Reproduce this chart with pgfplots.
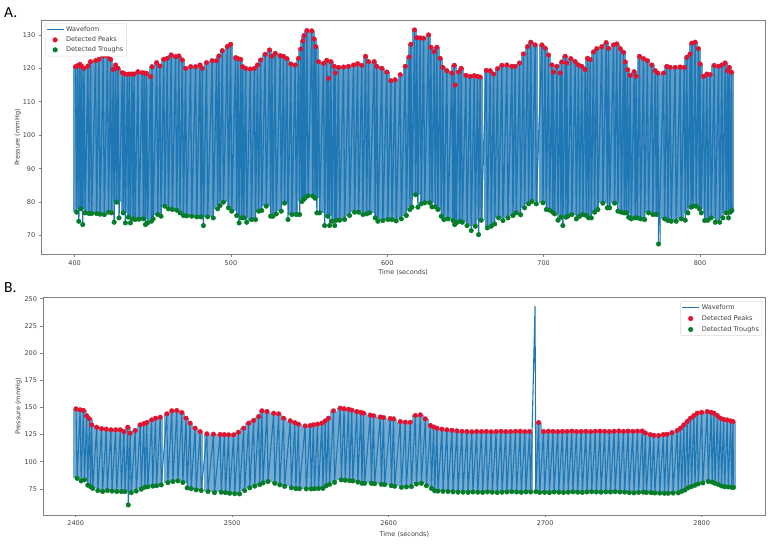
\documentclass[border=0pt]{standalone}
\usepackage{fontspec}
\setmainfont{DejaVu Sans}
\newfontfamily\panelfont{Carlito}
\usepackage{pgfplots}
\usepackage{pgfplotstable}
\pgfplotsset{compat=1.18}

\definecolor{wave}{HTML}{1F77B4}
\definecolor{peakc}{RGB}{224,20,48}
\definecolor{troughc}{RGB}{6,125,42}
\definecolor{spine}{gray}{0.5}
\definecolor{lbl}{gray}{0.25}

% rows alternate: peak, trough, peak, trough ...
\pgfplotsset{
  peakrows/.style={x filter/.code={\ifodd\coordindex\def\pgfmathresult{}\fi}},
  troughrows/.style={x filter/.code={\ifodd\coordindex\else\def\pgfmathresult{}\fi}},
  panel/.style={
    scale only axis,
    anchor=south west,
    axis on top,
    axis line style={spine,line width=0.9pt},
    tick style={spine,line width=0.6pt},
    tick align=outside,
    tick pos=left,
    major tick length=2.5pt,
    font=\fontsize{6.5}{8}\selectfont,
    tick label style={lbl,font=\fontsize{6.5}{8}\selectfont},
    label style={lbl,font=\fontsize{6.5}{8}\selectfont},
    /pgf/number format/assume math mode=true,
    /pgf/number format/1000 sep={},
    xlabel={Time (seconds)},
    ylabel={Pressure (mmHg)},
    legend cell align=left,
  },
}

\pgfplotstableread[row sep=\\]{
t v\\
400.6 120.5\\401.3 77\\
402.0 120.8\\402.7 74.3\\
403.4 121.2\\404.0 78\\
404.6 120.6\\405.2 73.3\\
406.0 120\\406.7 76.8\\
408.5 120.7\\409.2 76.6\\
410.2 122\\410.9 76.6\\
413.4 122.3\\414.1 76.6\\
415.6 122.7\\416.3 76.4\\
418.3 123.7\\419.0 76.3\\
421.0 123.7\\421.7 77\\
423.0 122.7\\423.7 76.8\\
424.7 119.7\\425.3 74\\
426.2 121\\426.9 80\\
427.7 120\\428.4 75.3\\
430.5 118.7\\431.1 76.8\\
431.8 118.4\\432.5 73.8\\
433.7 118.2\\434.4 75.5\\
435.0 118.3\\435.7 73.8\\
436.7 118.3\\437.4 75\\
438.0 118.3\\438.7 74.8\\
440.5 119\\441.2 74.9\\
443.3 118.7\\444.0 75\\
444.6 118.6\\445.3 73.3\\
446.0 118.5\\446.7 73.8\\
448.6 117.5\\449.1 74.3\\
449.5 120.5\\450.2 75\\
452.5 121.7\\453.2 76.3\\
454.6 120.7\\455.3 75.8\\
457.0 122.7\\457.7 78.8\\
459.3 123\\460.0 78\\
461.8 124\\462.5 77.8\\
464.6 123.5\\465.3 77.6\\
466.7 123.7\\467.4 76.8\\
468.9 122.5\\469.6 76\\
471.0 120\\471.7 75.9\\
474.2 120.5\\474.9 75.8\\
477.4 120.5\\478.1 75.6\\
480.2 121\\480.9 75.6\\
481.7 120\\482.4 73\\
484.4 121.7\\485.1 75.6\\
488.0 122.3\\488.7 75.3\\
490.8 122.3\\491.5 78\\
492.3 123.7\\493.0 79\\
494.5 125.3\\495.2 80\\
497.7 126.5\\498.4 78.3\\
499.8 127.2\\500.5 77.3\\
503.0 123.2\\503.7 76\\
504.5 122.9\\505.2 73.8\\
506.2 122.7\\506.9 75.3\\
507.5 120.5\\508.2 75.3\\
509.4 120\\510.1 74\\
512.4 119.8\\513.1 74.8\\
515.0 120\\515.7 74.8\\
517.0 121\\517.7 77.3\\
519.0 122.5\\519.7 77.5\\
521.9 124.2\\522.6 78.8\\
524.7 125.5\\525.4 75.8\\
526.2 123.6\\526.9 75.8\\
528.3 124.5\\529.0 76.5\\
531.5 123.8\\532.2 77.3\\
533.6 123.6\\534.3 79.7\\
535.8 122.9\\536.5 74.8\\
538.3 121.3\\539.0 76.3\\
541.1 121\\541.8 76.3\\
543.2 123\\543.9 76.3\\
544.7 125.8\\545.4 80.2\\
546.0 128.2\\546.5 80.8\\
546.8 129.8\\547.5 81.3\\
548.6 131.3\\549.3 81.9\\
551.7 131.2\\552.4 81.8\\
553.2 128.8\\553.8 81.2\\
554.3 126.5\\555.0 76.8\\
556.0 122\\556.7 76.8\\
559.2 121.5\\559.9 73\\
561.3 122.4\\561.9 75.8\\
562.4 117\\563.1 73\\
563.9 122\\564.6 74.3\\
566.0 120.6\\566.4 73\\
566.7 118.6\\567.4 74.6\\
568.8 120.3\\569.5 74.6\\
572.0 120.4\\572.7 74.8\\
575.2 120.6\\575.9 76\\
578.4 121\\579.1 77\\
581.0 121.4\\581.7 77\\
583.7 120.9\\584.4 76.3\\
586.1 123.6\\586.8 76.5\\
588.0 122\\588.7 76.8\\
591.6 122\\592.3 75.3\\
593.3 120.6\\594.0 74.3\\
596.5 120\\597.2 74.5\\
599.7 118.9\\600.4 74.8\\
602.3 116.3\\603.0 74.8\\
605.0 116.6\\605.7 74.4\\
608.3 118.1\\609.0 75\\
611.5 120.6\\612.2 76\\
614.0 123.4\\614.5 77.8\\
615.1 127.2\\615.8 78.5\\
617.4 131.5\\618.1 82.2\\
618.9 129.2\\619.6 78.5\\
621.0 129.1\\621.7 79.5\\
623.2 129\\623.9 79.8\\
626.4 130\\627.1 79.8\\
627.9 126.3\\628.6 78.6\\
630.0 125\\630.7 78.6\\
631.7 126.3\\632.4 77.8\\
633.8 123\\634.5 75.8\\
635.5 120.3\\636.2 74.8\\
638.1 119.3\\638.8 75\\
641.3 118.6\\642.0 74.5\\
642.8 120.9\\643.1 73.3\\
643.4 115\\644.1 73.8\\
645.6 118.9\\646.3 74.3\\
647.3 120\\648.0 74\\
650.3 117.9\\651.0 73\\
653.0 117.6\\653.7 71.5\\
655.6 117.8\\656.3 72.8\\
657.7 117.6\\658.4 70.3\\
659.4 117.4\\660.1 74.6\\
663.3 119.4\\664.0 72.3\\
665.8 119.3\\666.5 72.8\\
668.0 118.3\\668.7 73.5\\
670.5 119.9\\671.2 75.3\\
673.3 120.9\\674.0 74.5\\
676.5 121\\677.2 75.3\\
679.7 120.6\\680.4 76\\
681.8 120.6\\682.5 76.8\\
684.6 121.6\\685.3 76.2\\
687.1 124.3\\687.8 78.3\\
689.7 126.5\\690.4 79.5\\
691.8 127.8\\692.5 80.2\\
694.6 127\\695.3 79.5\\
698.9 127\\699.6 79.8\\
701.0 126\\701.7 77.8\\
703.1 124\\703.8 77.6\\
705.3 121\\705.8 77\\
706.3 118.9\\707.0 76.5\\
708.5 120.6\\709.2 74.6\\
710.6 118.6\\711.1 75.5\\
711.6 121.9\\712.3 73\\
713.8 123.6\\714.3 75.5\\
714.8 121.6\\715.5 75.8\\
717.4 122.9\\718.1 76.3\\
720.2 122\\720.9 75\\
722.3 121\\723.0 75.8\\
724.4 120.6\\725.1 76.3\\
726.6 119.6\\727.3 76\\
728.1 123\\728.8 75.3\\
729.8 122.6\\730.5 75.3\\
731.9 124.9\\732.6 77\\
734.0 125.9\\734.7 77.8\\
737.2 126.5\\737.9 79.7\\
740.0 127.7\\740.7 78.3\\
741.5 126\\742.2 78.3\\
744.7 127\\745.4 79.7\\
746.8 127.3\\747.5 77.3\\
749.0 125.9\\749.7 77\\
751.1 124.8\\751.6 76.8\\
752.2 121.9\\752.9 76.8\\
753.7 119.6\\754.4 75.5\\
755.4 117.9\\756.1 75\\
757.9 119\\758.6 75.3\\
759.2 117.6\\759.9 75.3\\
761.3 123.6\\762.0 75\\
763.9 122.9\\764.6 74.8\\
766.4 122.3\\767.1 76.8\\
769.2 121\\769.9 76.3\\
771.4 119.3\\772.1 76.3\\
773.0 118.6\\773.5 67.5\\
776.7 118.6\\777.4 75\\
778.8 120.6\\779.5 74.5\\
780.9 120.3\\781.6 74.3\\
784.1 120.3\\784.8 74.3\\
787.3 120.4\\788.0 75\\
789.9 120.3\\790.6 74.6\\
791.6 123.3\\792.3 76.8\\
793.7 124.3\\794.3 78.5\\
794.8 127.5\\795.5 78.8\\
796.9 127.8\\797.6 78.8\\
799.0 125.9\\799.6 78\\
800.1 121.3\\800.8 76.8\\
802.3 117.6\\803.0 74.5\\
804.4 118.3\\805.1 74.6\\
806.5 118.1\\807.2 75.3\\
809.1 120.9\\809.8 74\\
811.9 120.6\\812.6 74\\
814.0 121\\814.7 75.3\\
816.1 121.6\\816.8 76.8\\
817.6 119.3\\818.2 75.3\\
818.7 120.3\\819.4 77\\
820.2 118.8\\820.4 77.5\\
}\waveA

\pgfplotstableread[row sep=\\]{
t v\\
2400.2 148.7\\2400.9 84.8\\
2402.8 147.8\\2403.5 82.4\\
2404.9 147.2\\2405.6 83.3\\
2407.0 142.3\\2407.7 78.5\\
2408.8 139.5\\2409.5 77\\
2410.2 134\\2410.9 75.5\\
2413.4 131.8\\2414.1 73.5\\
2416.5 130.5\\2417.2 72.6\\
2419.5 130\\2420.2 73.5\\
2422.5 129.4\\2423.2 73\\
2425.5 129.4\\2426.2 72.6\\
2428.5 129.4\\2429.2 72.6\\
2430.8 127.8\\2431.5 72.5\\
2433.3 131.8\\2433.6 60.3\\
2434.8 126.3\\2435.5 71.6\\
2438.0 128.8\\2438.7 73\\
2441.2 134\\2441.9 74.8\\
2443.5 135\\2444.2 76.6\\
2445.4 136.1\\2446.1 77\\
2448.5 138.5\\2449.2 77.6\\
2451.0 140.1\\2451.7 78\\
2454.0 141\\2454.7 78.7\\
2458.2 144.1\\2458.9 80.8\\
2461.4 146.9\\2462.1 81.8\\
2464.6 147.2\\2465.3 82.4\\
2467.8 145.3\\2468.5 80.9\\
2470.5 140.1\\2471.2 76\\
2473.1 135.5\\2473.8 75.2\\
2476.3 130.9\\2477.0 74.1\\
2479.5 127.8\\2480.2 73.5\\
2483.8 125.7\\2484.5 72.6\\
2488.0 125.4\\2488.7 71.6\\
2492.3 125.1\\2493.0 72\\
2495.0 125\\2495.7 71.6\\
2497.7 124.8\\2498.4 71\\
2500.9 124.8\\2501.6 70.6\\
2504.0 127.2\\2504.7 70.4\\
2507.3 130.9\\2508.0 73.5\\
2510.5 135.5\\2511.2 76\\
2513.7 138\\2514.4 77.6\\
2516.9 141.6\\2517.6 79\\
2519.0 146.9\\2519.7 80.5\\
2522.2 146.3\\2522.9 81.8\\
2526.5 144.7\\2527.2 80.2\\
2529.7 144.1\\2530.4 78.8\\
2532.8 140.1\\2533.5 77.4\\
2537.1 137.7\\2537.8 76\\
2540.0 136\\2540.7 75.2\\
2542.3 134.6\\2543.0 75.2\\
2546.6 133\\2547.3 75\\
2549.8 133.3\\2550.5 75\\
2551.9 134\\2552.6 75.2\\
2554.5 134.7\\2555.2 75.4\\
2557.3 135.5\\2558.0 75.6\\
2559.4 137.5\\2560.1 78\\
2561.5 140.1\\2562.2 79.3\\
2564.7 146.9\\2565.4 81\\
2569.0 149.3\\2569.7 83.3\\
2571.5 148.8\\2572.2 83\\
2574.3 148.4\\2575.0 82.6\\
2576.4 147.5\\2577.1 82.4\\
2579.6 146.2\\2580.3 81.3\\
2582.2 145.5\\2582.9 80.2\\
2583.9 144.7\\2584.6 80.2\\
2588.2 143\\2588.9 80.2\\
2590.3 142.3\\2591.0 79.8\\
2594.6 141.2\\2595.3 79.3\\
2596.7 140.7\\2597.4 79\\
2601.0 139.8\\2601.7 78\\
2603.1 139.5\\2603.8 77.5\\
2607.4 137\\2608.1 76.5\\
2610.6 136.4\\2611.3 76.8\\
2613.8 136.4\\2614.5 77.2\\
2617.0 142.6\\2617.7 79.5\\
2620.2 143.2\\2620.9 80.2\\
2623.4 139.5\\2624.1 78\\
2626.6 133.4\\2627.3 75.5\\
2628.7 132\\2629.4 73.2\\
2630.8 130.9\\2631.5 73\\
2634.0 130\\2634.7 72.8\\
2637.2 129.4\\2637.9 72.6\\
2640.4 129\\2641.1 72.3\\
2643.6 128.4\\2644.3 72\\
2646.8 128\\2647.5 72\\
2650.0 127.8\\2650.7 71.8\\
2653.1 127.6\\2653.8 72.2\\
2656.2 127.9\\2656.9 72\\
2659.3 127.7\\2660.0 71.8\\
2662.4 127.9\\2663.1 72.3\\
2665.5 127.6\\2666.2 72\\
2668.6 127.8\\2669.3 71.7\\
2671.7 128\\2672.4 72\\
2674.8 127.7\\2675.5 72.2\\
2677.9 127.8\\2678.6 72.5\\
2681.0 128\\2681.7 72.2\\
2684.0 128.1\\2684.7 71.9\\
2687.0 127.7\\2687.7 72.3\\
2690.0 127.8\\2690.7 72.2\\
2693.5 243\\2694.0 72.5\\
2695.8 136.1\\2696.5 71.8\\
2698.9 127.8\\2699.6 71.9\\
2702.0 128.1\\2702.7 71.6\\
2705.0 127.9\\2705.7 72.2\\
2708.0 127.7\\2708.7 72\\
2711.0 128\\2711.7 71.7\\
2714.0 127.9\\2714.7 72\\
2717.0 128.2\\2717.7 72.3\\
2720.0 127.8\\2720.7 72\\
2723.0 127.9\\2723.7 71.8\\
2726.0 128\\2726.7 72.2\\
2729.0 127.7\\2729.7 72.4\\
2732.0 128.1\\2732.7 72.2\\
2735.0 128.2\\2735.7 72\\
2738.0 128\\2738.7 72.3\\
2741.0 127.8\\2741.7 72.2\\
2744.0 128.1\\2744.7 72.5\\
2747.0 128.3\\2747.7 72.2\\
2750.0 128\\2750.7 72.1\\
2753.0 128.2\\2753.7 71.6\\
2756.0 128\\2756.7 71.4\\
2759.0 128.2\\2759.7 71.8\\
2762.0 128.3\\2762.7 72\\
2764.0 126.5\\2764.7 71.7\\
2767.0 125\\2767.7 71.6\\
2769.4 124.3\\2770.1 71.3\\
2772.5 124.2\\2773.2 71.2\\
2775.5 125\\2776.2 71\\
2777.9 125.3\\2778.6 71\\
2781.0 126.8\\2781.7 71.2\\
2784.3 128.7\\2785.0 71.4\\
2786.5 131\\2787.2 72.8\\
2788.6 134\\2789.3 74\\
2790.7 137\\2791.4 76\\
2792.8 140.1\\2793.5 77.2\\
2795.0 142.5\\2795.7 78.4\\
2797.1 144.7\\2797.8 79.6\\
2800.0 145.5\\2800.7 80.5\\
2803.5 146.2\\2804.2 81.8\\
2806.0 145.5\\2806.7 81.3\\
2807.8 144.7\\2808.5 80.2\\
2810.0 142.5\\2810.7 79\\
2812.0 140.1\\2812.7 77.7\\
2814.0 139\\2814.7 77\\
2816.3 138.5\\2817.0 76.8\\
2818.5 137.6\\2819.2 76.5\\
2820.0 137\\2820.3 76.3\\
}\waveB

\begin{document}
\begin{tikzpicture}
\useasboundingbox (0,0) rectangle (778pt,545pt);

\node[anchor=base west,inner sep=0pt,font=\panelfont\fontsize{15.5}{16}\selectfont] at (4pt,527pt) {A.};
\node[anchor=base west,inner sep=0pt,font=\panelfont\fontsize{15.5}{16}\selectfont] at (4pt,252pt) {B.};

\begin{axis}[
  panel,
  at={(41.3pt,290.3pt)},
  width=723.7pt,
  height=234.2pt,
  xmin=378.7, xmax=841.6,
  ymin=64.3, ymax=134.3,
  xtick={400,500,600,700,800},
  ytick={70,80,90,100,110,120,130},
  xlabel shift=-3pt,
  ylabel shift=-5pt,
  legend style={at={(0.005,0.987)},anchor=north west,draw=black!15,rounded corners=1pt,
    font=\fontsize{6.5}{8}\selectfont,text=lbl,inner sep=1pt,row sep=-0.5pt},
]
% wide combs, tint up to the peaks and white up to the troughs: stand in for beats too dense to draw
\addplot[ycomb,wave!72!white,line width=5.5pt,forget plot,peakrows] table[x=t,y=v] {\waveA};
\addplot[ycomb,white,line width=8pt,forget plot,troughrows] table[x=t,y=v] {\waveA};
\addplot[wave,line width=1.3pt,line join=round,legend image post style={line width=1pt}] table[x=t,y=v] {\waveA};
\addlegendentry{Waveform}
\addplot[only marks,mark=*,mark size=2.3pt,peakc,mark options={draw=peakc,fill=peakc},peakrows] table[x=t,y=v] {\waveA};
\addlegendentry{Detected Peaks}
\addplot[only marks,mark=*,mark size=2.3pt,troughc,mark options={draw=troughc,fill=troughc},troughrows] table[x=t,y=v] {\waveA};
\addlegendentry{Detected Troughs}
\end{axis}

\begin{axis}[
  panel,
  at={(43pt,30pt)},
  width=722.7pt,
  height=217.3pt,
  xmin=2379.1, xmax=2840.9,
  ymin=51, ymax=251,
  xtick={2400,2500,2600,2700,2800},
  ytick={75,100,125,150,175,200,225,250},
  xlabel shift=-1pt,
  ylabel shift=-4pt,
  legend style={at={(0.995,0.984)},anchor=north east,draw=black!15,rounded corners=1pt,
    font=\fontsize{6.5}{8}\selectfont,text=lbl,inner sep=1pt,row sep=0.5pt},
]
\addplot[ycomb,wave!62!white,line width=6.5pt,forget plot,peakrows,restrict y to domain=0:200] table[x=t,y=v] {\waveB};
\addplot[ycomb,white,line width=8pt,forget plot,troughrows] table[x=t,y=v] {\waveB};
\addplot[wave,line width=1.1pt,line join=round,legend image post style={line width=1pt}] table[x=t,y=v] {\waveB};
\addlegendentry{Waveform}
% the spike at 2693 s was not detected as a peak, so the marks stop below 200
\addplot[only marks,mark=*,mark size=2.3pt,peakc,mark options={draw=peakc,fill=peakc},peakrows,restrict y to domain=0:200] table[x=t,y=v] {\waveB};
\addlegendentry{Detected Peaks}
\addplot[only marks,mark=*,mark size=2.3pt,troughc,mark options={draw=troughc,fill=troughc},troughrows] table[x=t,y=v] {\waveB};
\addlegendentry{Detected Troughs}
\end{axis}
\end{tikzpicture}
\end{document}
